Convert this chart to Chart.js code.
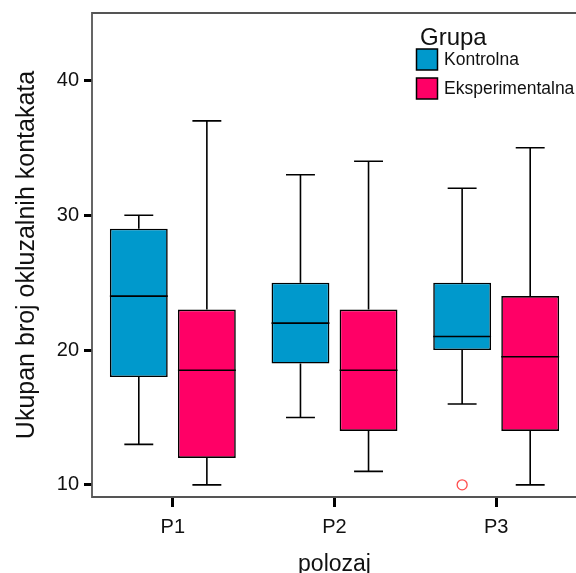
<!DOCTYPE html>
<html>
<head>
<meta charset="utf-8">
<title>Ukupan broj okluzalnih kontakata</title>
<script src="https://cdn.jsdelivr.net/npm/chart.js@4.4.1/dist/chart.umd.min.js"></script>
<style>
  html, body { margin: 0; padding: 0; background: #fff; overflow: hidden; }
  #wrap { width: 580px; height: 573px; }
</style>
</head>
<body>
<div id="wrap"><canvas id="boxChart" width="580" height="573"></canvas></div>
<script>
const categories = ['P1', 'P2', 'P3'];
const yTicks = [10, 20, 30, 40];

// five-number summaries per position
const kontrolnaLow    = [13, 15, 16];
const kontrolnaQ1     = [18, 19, 20];
const kontrolnaMedian = [24, 22, 21];
const kontrolnaQ3     = [29, 25, 25];
const kontrolnaHigh   = [30, 33, 32];
const kontrolnaOutliers = [[], [], [10]];

const eksperimentalnaLow    = [10, 11, 10];
const eksperimentalnaQ1     = [12, 14, 14];
const eksperimentalnaMedian = [18.5, 18.5, 19.5];
const eksperimentalnaQ3     = [23, 23, 24];
const eksperimentalnaHigh   = [37, 34, 35];
const eksperimentalnaOutliers = [[], [], []];

const FONT = "'Liberation Sans', Arial, Helvetica, sans-serif";
const TEXT = '#111';

Chart.defaults.font.family = FONT;
Chart.defaults.color = TEXT;

function boxes(q1, q3) {
  return q1.map((v, i) => [v, q3[i]]);
}

// whiskers, medians and outlier points on top of the floating bars
const boxWhiskers = {
  id: 'boxWhiskers',
  afterDatasetsDraw(chart) {
    const ctx = chart.ctx;
    const y = chart.scales.y;
    chart.data.datasets.forEach((ds, di) => {
      const meta = chart.getDatasetMeta(di);
      meta.data.forEach((bar, i) => {
        const x = bar.x;
        const w = bar.width;
        const [q1, q3] = ds.data[i];
        ctx.save();
        ctx.strokeStyle = '#000';
        ctx.lineWidth = 1.6;
        ctx.beginPath();
        // median
        ctx.moveTo(x - w / 2, y.getPixelForValue(ds.medians[i]));
        ctx.lineTo(x + w / 2, y.getPixelForValue(ds.medians[i]));
        // upper whisker + cap
        ctx.moveTo(x, y.getPixelForValue(q3));
        ctx.lineTo(x, y.getPixelForValue(ds.highs[i]));
        ctx.moveTo(x - w / 4, y.getPixelForValue(ds.highs[i]));
        ctx.lineTo(x + w / 4, y.getPixelForValue(ds.highs[i]));
        // lower whisker + cap
        ctx.moveTo(x, y.getPixelForValue(q1));
        ctx.lineTo(x, y.getPixelForValue(ds.lows[i]));
        ctx.moveTo(x - w / 4, y.getPixelForValue(ds.lows[i]));
        ctx.lineTo(x + w / 4, y.getPixelForValue(ds.lows[i]));
        ctx.stroke();

        ctx.strokeStyle = '#FF4D4D';
        ctx.lineWidth = 1.3;
        ds.outliers[i].forEach(v => {
          ctx.beginPath();
          ctx.arc(x, y.getPixelForValue(v), 5, 0, Math.PI * 2);
          ctx.stroke();
        });
        ctx.restore();
      });
    });
  }
};

// panel frame and legend inside the plot area
const frameLegend = {
  id: 'frameLegend',
  afterDraw(chart) {
    const ctx = chart.ctx;
    const a = chart.chartArea;
    ctx.save();
    ctx.strokeStyle = '#555';
    ctx.lineWidth = 1.8;
    ctx.beginPath();
    ctx.moveTo(chart.width, a.top);
    ctx.lineTo(a.left, a.top);
    ctx.lineTo(a.left, a.bottom);
    ctx.lineTo(chart.width, a.bottom);
    ctx.stroke();

    ctx.fillStyle = TEXT;
    ctx.font = '24px ' + FONT;
    ctx.textBaseline = 'alphabetic';
    ctx.textAlign = 'left';
    ctx.fillText('Grupa', 420, 45);

    ctx.font = '17.5px ' + FONT;
    ctx.textBaseline = 'middle';
    chart.data.datasets.forEach((ds, i) => {
      const top = 49 + i * 29;
      ctx.fillStyle = ds.backgroundColor;
      ctx.fillRect(416.5, top, 21, 21);
      ctx.strokeStyle = '#000';
      ctx.lineWidth = 1.5;
      ctx.strokeRect(416.5, top, 21, 21);
      ctx.fillStyle = TEXT;
      ctx.fillText(ds.label, 444, top + 11);
    });
    ctx.restore();
  }
};

new Chart(document.getElementById('boxChart'), {
  type: 'bar',
  data: {
    labels: categories,
    datasets: [
      {
        label: 'Kontrolna',
        data: boxes(kontrolnaQ1, kontrolnaQ3),
        lows: kontrolnaLow,
        medians: kontrolnaMedian,
        highs: kontrolnaHigh,
        outliers: kontrolnaOutliers,
        backgroundColor: '#0099CC',
        borderColor: '#000',
        borderWidth: 1.6,
        borderSkipped: false
      },
      {
        label: 'Eksperimentalna',
        data: boxes(eksperimentalnaQ1, eksperimentalnaQ3),
        lows: eksperimentalnaLow,
        medians: eksperimentalnaMedian,
        highs: eksperimentalnaHigh,
        outliers: eksperimentalnaOutliers,
        backgroundColor: '#FF0066',
        borderColor: '#000',
        borderWidth: 1.6,
        borderSkipped: false
      }
    ]
  },
  options: {
    responsive: false,
    animation: false,
    devicePixelRatio: 1,
    categoryPercentage: 0.842,
    barPercentage: 0.85,
    layout: { padding: { top: 13, right: 3, left: 0, bottom: 0 } },
    plugins: {
      legend: { display: false },
      tooltip: { enabled: false }
    },
    scales: {
      x: {
        offset: true,
        grid: {
          offset: false,
          drawOnChartArea: false,
          tickLength: 10,
          tickWidth: 3,
          tickColor: '#000'
        },
        border: { display: false },
        ticks: { font: { size: 20 }, color: TEXT, padding: 8 },
        title: {
          display: true,
          text: 'polozaj',
          font: { size: 23 },
          color: TEXT,
          padding: { top: 0, bottom: -5 }
        },
        afterFit: s => { s.height = 76; }
      },
      y: {
        min: 9.1,
        max: 45,
        afterBuildTicks: s => { s.ticks = yTicks.map(v => ({ value: v })); },
        grid: {
          drawOnChartArea: false,
          tickLength: 8,
          tickWidth: 3,
          tickColor: '#000'
        },
        border: { display: false },
        ticks: { font: { size: 20 }, color: TEXT, padding: 5 },
        title: {
          display: true,
          text: 'Ukupan broj okluzalnih kontakata',
          font: { size: 25 },
          color: TEXT,
          padding: { top: 12, bottom: 0 }
        },
        afterFit: s => {
          s.width = 92;
          s.paddingTop = 0;
          s.paddingBottom = 0;
        }
      }
    }
  },
  plugins: [boxWhiskers, frameLegend]
});
</script>
</body>
</html>
